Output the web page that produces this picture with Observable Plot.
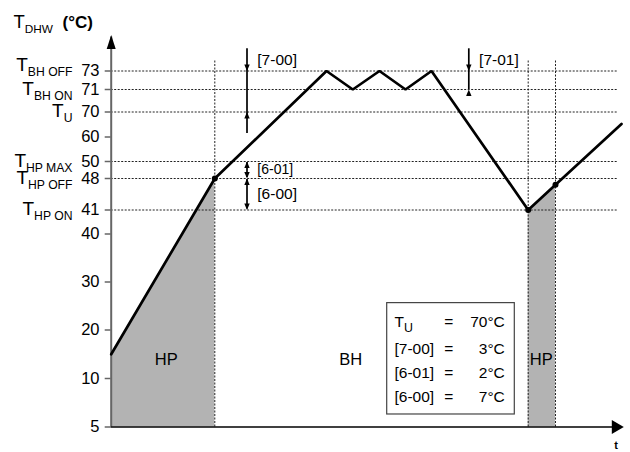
<!DOCTYPE html>
<html><head><meta charset="utf-8">
<script src="https://cdn.jsdelivr.net/npm/d3@7"></script>
<script src="https://cdn.jsdelivr.net/npm/@observablehq/plot@0.6"></script>
<style>body{margin:0;background:#fff} svg{display:block}</style>
</head><body><div id="chart"></div>
<script>
// ---- data ----
const tempStops = [5, 10, 20, 30, 40, 41, 48, 50, 60, 70, 71, 73];
const tickLabels = ["5", "10", "20", "30", "40", "41", "48", "50", "60", "70", "71", "73"];
const levelTemps = [73, 71, 70, 50, 48, 41];
const levelNames = ["T_{BH OFF}", "T_{BH ON}", "T_{U}", "T_{HP MAX}", "T_{HP OFF}", "T_{HP ON}"];
const curveTime = [0, 103.6, 215.3, 241.6, 268.3, 294.3, 320.3, 417, 444.3, 510.3];
const curveTemp = [15, 48, 73, 71, 73, 71, 73, 41, 46.6, 65.2];
const switchIndex = [1, 7, 8];
const hpSpans = [[0, 1], [7, 8]];
const phaseNames = ["HP", "BH", "HP"];
const phaseTime = [55, 239.6, 430];
const phaseTemp = 13.9;
const annotNames = ["[7-00]", "[7-01]", "[6-01]", "[6-00]"];
const annotTime = [135.8, 357.6, 135.8, 135.8];
const annotLow = [70, 71, 48, 41];
const annotHigh = [73, 73, 50, 48];
const paramNames = ["T_[U]", "[7-00]", "[6-01]", "[6-00]"];
const paramValues = ["70°C", "3°C", "2°C", "7°C"];
const paramRowTemp = [21.56, 15.98, 11.13, 8.14];
const timeEnd = 512.6, levelEnd = 507.3, tempTop = 76.9, guideTop = 74.2, annotTop = 75.4, annot700Bottom = 61.4;

// ---- non-linear (piecewise) temperature axis of the diagram ----
const tempAxis = d3.scaleLinear()
  .domain(tempStops)
  .range([426.5, 378, 329.5, 281.5, 233.5, 209.5, 178, 161, 136.5, 111.5, 89, 70.5]);
const Y = v => tempAxis(v);

// ---- derived tables ----
const curve = curveTime.map((t, i) => ({t, temp: curveTemp[i]}));
const levels = levelTemps.map((v, i) => ({temp: v, name: levelNames[i]}));
const ticks = tempStops.map((v, i) => ({temp: v, label: tickLabels[i]}));
const annots = annotNames.map((n, i) => ({name: n, t: annotTime[i], lo: annotLow[i], hi: annotHigh[i]}));
const inward = annots.filter(a => a.name.startsWith("[7"));
const outward = annots.filter(a => a.name.startsWith("[6"));
const params = paramNames.map((n, i) => ({name: n, value: paramValues[i], temp: paramRowTemp[i]}));

function tri(dir, len, half) {
  return {draw(ctx) {
    if (dir === "up") { ctx.moveTo(0, 0); ctx.lineTo(-half, len); ctx.lineTo(half, len); }
    else if (dir === "down") { ctx.moveTo(0, 0); ctx.lineTo(-half, -len); ctx.lineTo(half, -len); }
    else { ctx.moveTo(0, 0); ctx.lineTo(-len, -half); ctx.lineTo(-len, half); }
    ctx.closePath();
  }};
}
const smallUp = tri("up", 6.5, 2.7), smallDown = tri("down", 6.5, 2.7);
const axisUp = tri("up", 14, 4.5), axisRight = tri("right", 12, 7);

const dotted = {stroke: "#222", strokeWidth: 1, strokeDasharray: "2,1.5"};
const font = "'Liberation Sans', Arial, Helvetica, sans-serif";

const plot = Plot.plot({
  width: 630, height: 452,
  marginTop: 0, marginRight: 0, marginBottom: 0, marginLeft: 0,
  style: {fontFamily: font, background: "white", color: "black"},
  x: {domain: [0, timeEnd], range: [110.7, 623.3], axis: null},
  y: {type: "identity", axis: null},
  marks: [
    // HP shaded areas
    ...hpSpans.map(([a, b]) => Plot.areaY(curve.slice(a, b + 1), {x: "t", y1: () => Y(5), y2: d => Y(d.temp), fill: "#b3b3b3"})),
    // guide lines
    Plot.ruleY(levels, {y: d => Y(d.temp), x1: 0, x2: levelEnd, ...dotted}),
    Plot.ruleX(switchIndex.map(i => curve[i]), {x: "t", y1: () => Y(5), y2: () => Y(guideTop), ...dotted}),
    // y axis
    Plot.ruleX([0], {y1: () => Y(5), y2: () => Y(tempTop) + 2, stroke: "#666", strokeWidth: 2}),
    Plot.dot([0], {x: 0, y: () => Y(tempTop), symbol: axisUp, fill: "black", stroke: "none"}),
    Plot.ruleY(ticks, {y: d => Y(d.temp), x1: -6, x2: 0, stroke: "#666", strokeWidth: 1.5}),
    Plot.text(ticks, {x: 0, y: d => Y(d.temp), text: "label", textAnchor: "end", lineAnchor: "middle", dx: -11.7, fontSize: 16.5}),
    Plot.text(levels, {filter: d => d.temp !== 73, x: 0, y: d => Y(d.temp), text: "name", textAnchor: "end", lineAnchor: "middle", dx: -38.7, dy: -1, fontSize: 19}),
    Plot.text(levels, {filter: d => d.temp === 73, x: 0, y: d => Y(d.temp), text: "name", textAnchor: "end", lineAnchor: "middle", dx: -38.7, dy: -6.5, fontSize: 19}),
    // x axis
    Plot.ruleY([0], {y: () => Y(5), x1: 0, x2: timeEnd - 6, stroke: "black", strokeWidth: 1.5}),
    Plot.dot([0], {x: timeEnd, y: () => Y(5), symbol: axisRight, fill: "black", stroke: "none"}),
    Plot.text(["t"], {x: 505, y: () => Y(3.09), text: d => d, fontSize: 11, fontWeight: "bold", textAnchor: "middle", lineAnchor: "middle"}),
    // temperature curve
    Plot.line(curve, {x: "t", y: d => Y(d.temp), stroke: "black", strokeWidth: 2.7, strokeLinejoin: "miter"}),
    Plot.dot(switchIndex.map(i => curve[i]), {x: "t", y: d => Y(d.temp), r: 3, fill: "black", stroke: "none"}),
    // annotation arrows
    Plot.ruleX(inward, {x: "t", y1: () => Y(annotTop), y2: d => Y(d.name === "[7-00]" ? annot700Bottom : d.lo), stroke: "black", strokeWidth: 1.7}),
    Plot.dot(inward, {x: "t", y: d => Y(d.hi), symbol: smallDown, fill: "black", stroke: "none"}),
    Plot.dot(inward, {x: "t", y: d => Y(d.lo), symbol: smallUp, fill: "black", stroke: "none"}),
    Plot.ruleX(outward, {x: "t", y1: d => Y(d.lo) - 1, y2: d => Y(d.hi) + 1, stroke: "black", strokeWidth: 1.7}),
    Plot.dot(outward, {x: "t", y: d => Y(d.hi), symbol: smallUp, fill: "black", stroke: "none"}),
    Plot.dot(outward, {x: "t", y: d => Y(d.lo), symbol: smallDown, fill: "black", stroke: "none"}),
    Plot.text(inward, {x: "t", y: () => Y(guideTop), text: "name", textAnchor: "start", lineAnchor: "middle", dx: 10.3, fontSize: 15.5}),
    Plot.text(outward, {filter: d => d.name === "[6-01]", x: "t", y: d => Y((d.lo + d.hi) / 2), text: "name", textAnchor: "start", lineAnchor: "middle", dx: 10.3, fontSize: 14}),
    Plot.text(outward, {filter: d => d.name === "[6-00]", x: "t", y: d => Y((d.lo + d.hi) / 2), text: "name", textAnchor: "start", lineAnchor: "middle", dx: 10.3, fontSize: 15.5}),
    // phase labels
    Plot.text(phaseNames, {x: (d, i) => phaseTime[i], y: () => Y(phaseTemp), text: d => d, fontSize: 16.5, textAnchor: "middle", lineAnchor: "middle"}),
    // parameter box
    Plot.rect([0], {x1: 276, x2: 403.6, y1: () => Y(6.29), y2: () => Y(25.6), fill: "white", stroke: "#444", strokeWidth: 1.2}),
    Plot.text(params, {x: 283.3, y: d => Y(d.temp), text: "name", textAnchor: "start", lineAnchor: "middle", fontSize: 15.5}),
    Plot.text(params, {x: 337.6, y: d => Y(d.temp), text: () => "=", textAnchor: "middle", lineAnchor: "middle", fontSize: 15.5}),
    Plot.text(params, {x: 393.6, y: d => Y(d.temp), text: "value", textAnchor: "end", lineAnchor: "middle", fontSize: 15.5}),
    // title
    Plot.text(["T_{DHW}"], {frameAnchor: "top-left", dx: 13, dy: 21.4, text: d => d, textAnchor: "start", lineAnchor: "middle", fontSize: 18.5}),
    Plot.text(["(°C)"], {frameAnchor: "top-left", dx: 62, dy: 21.9, text: d => d, textAnchor: "start", lineAnchor: "middle", fontSize: 17, fontWeight: "bold"})
  ]
});
document.getElementById("chart").appendChild(plot);

// render "X_{sub}" (small subscript) and "X_[sub]" (large subscript) as tspans
plot.querySelectorAll("text").forEach(el => {
  const s = el.textContent;
  const m = s.match(/^(.*?)_([\{\[])(.*?)[\}\]](.*)$/);
  if (!m) return;
  const fs = parseFloat(getComputedStyle(el).fontSize);
  const large = m[2] === "[";
  const ratio = large ? 0.8 : 0.64;
  const shift = fs * (large ? 0.3 : 0.27);
  el.textContent = "";
  const ns = "http://www.w3.org/2000/svg";
  const a = document.createElementNS(ns, "tspan"); a.textContent = m[1]; el.appendChild(a);
  const b = document.createElementNS(ns, "tspan"); b.textContent = m[3];
  b.setAttribute("font-size", (fs * ratio).toFixed(1)); b.setAttribute("dy", shift.toFixed(1)); el.appendChild(b);
  if (m[4]) { const c = document.createElementNS(ns, "tspan"); c.textContent = m[4]; c.setAttribute("dy", (-shift).toFixed(1)); el.appendChild(c); }
});
</script></body></html>
